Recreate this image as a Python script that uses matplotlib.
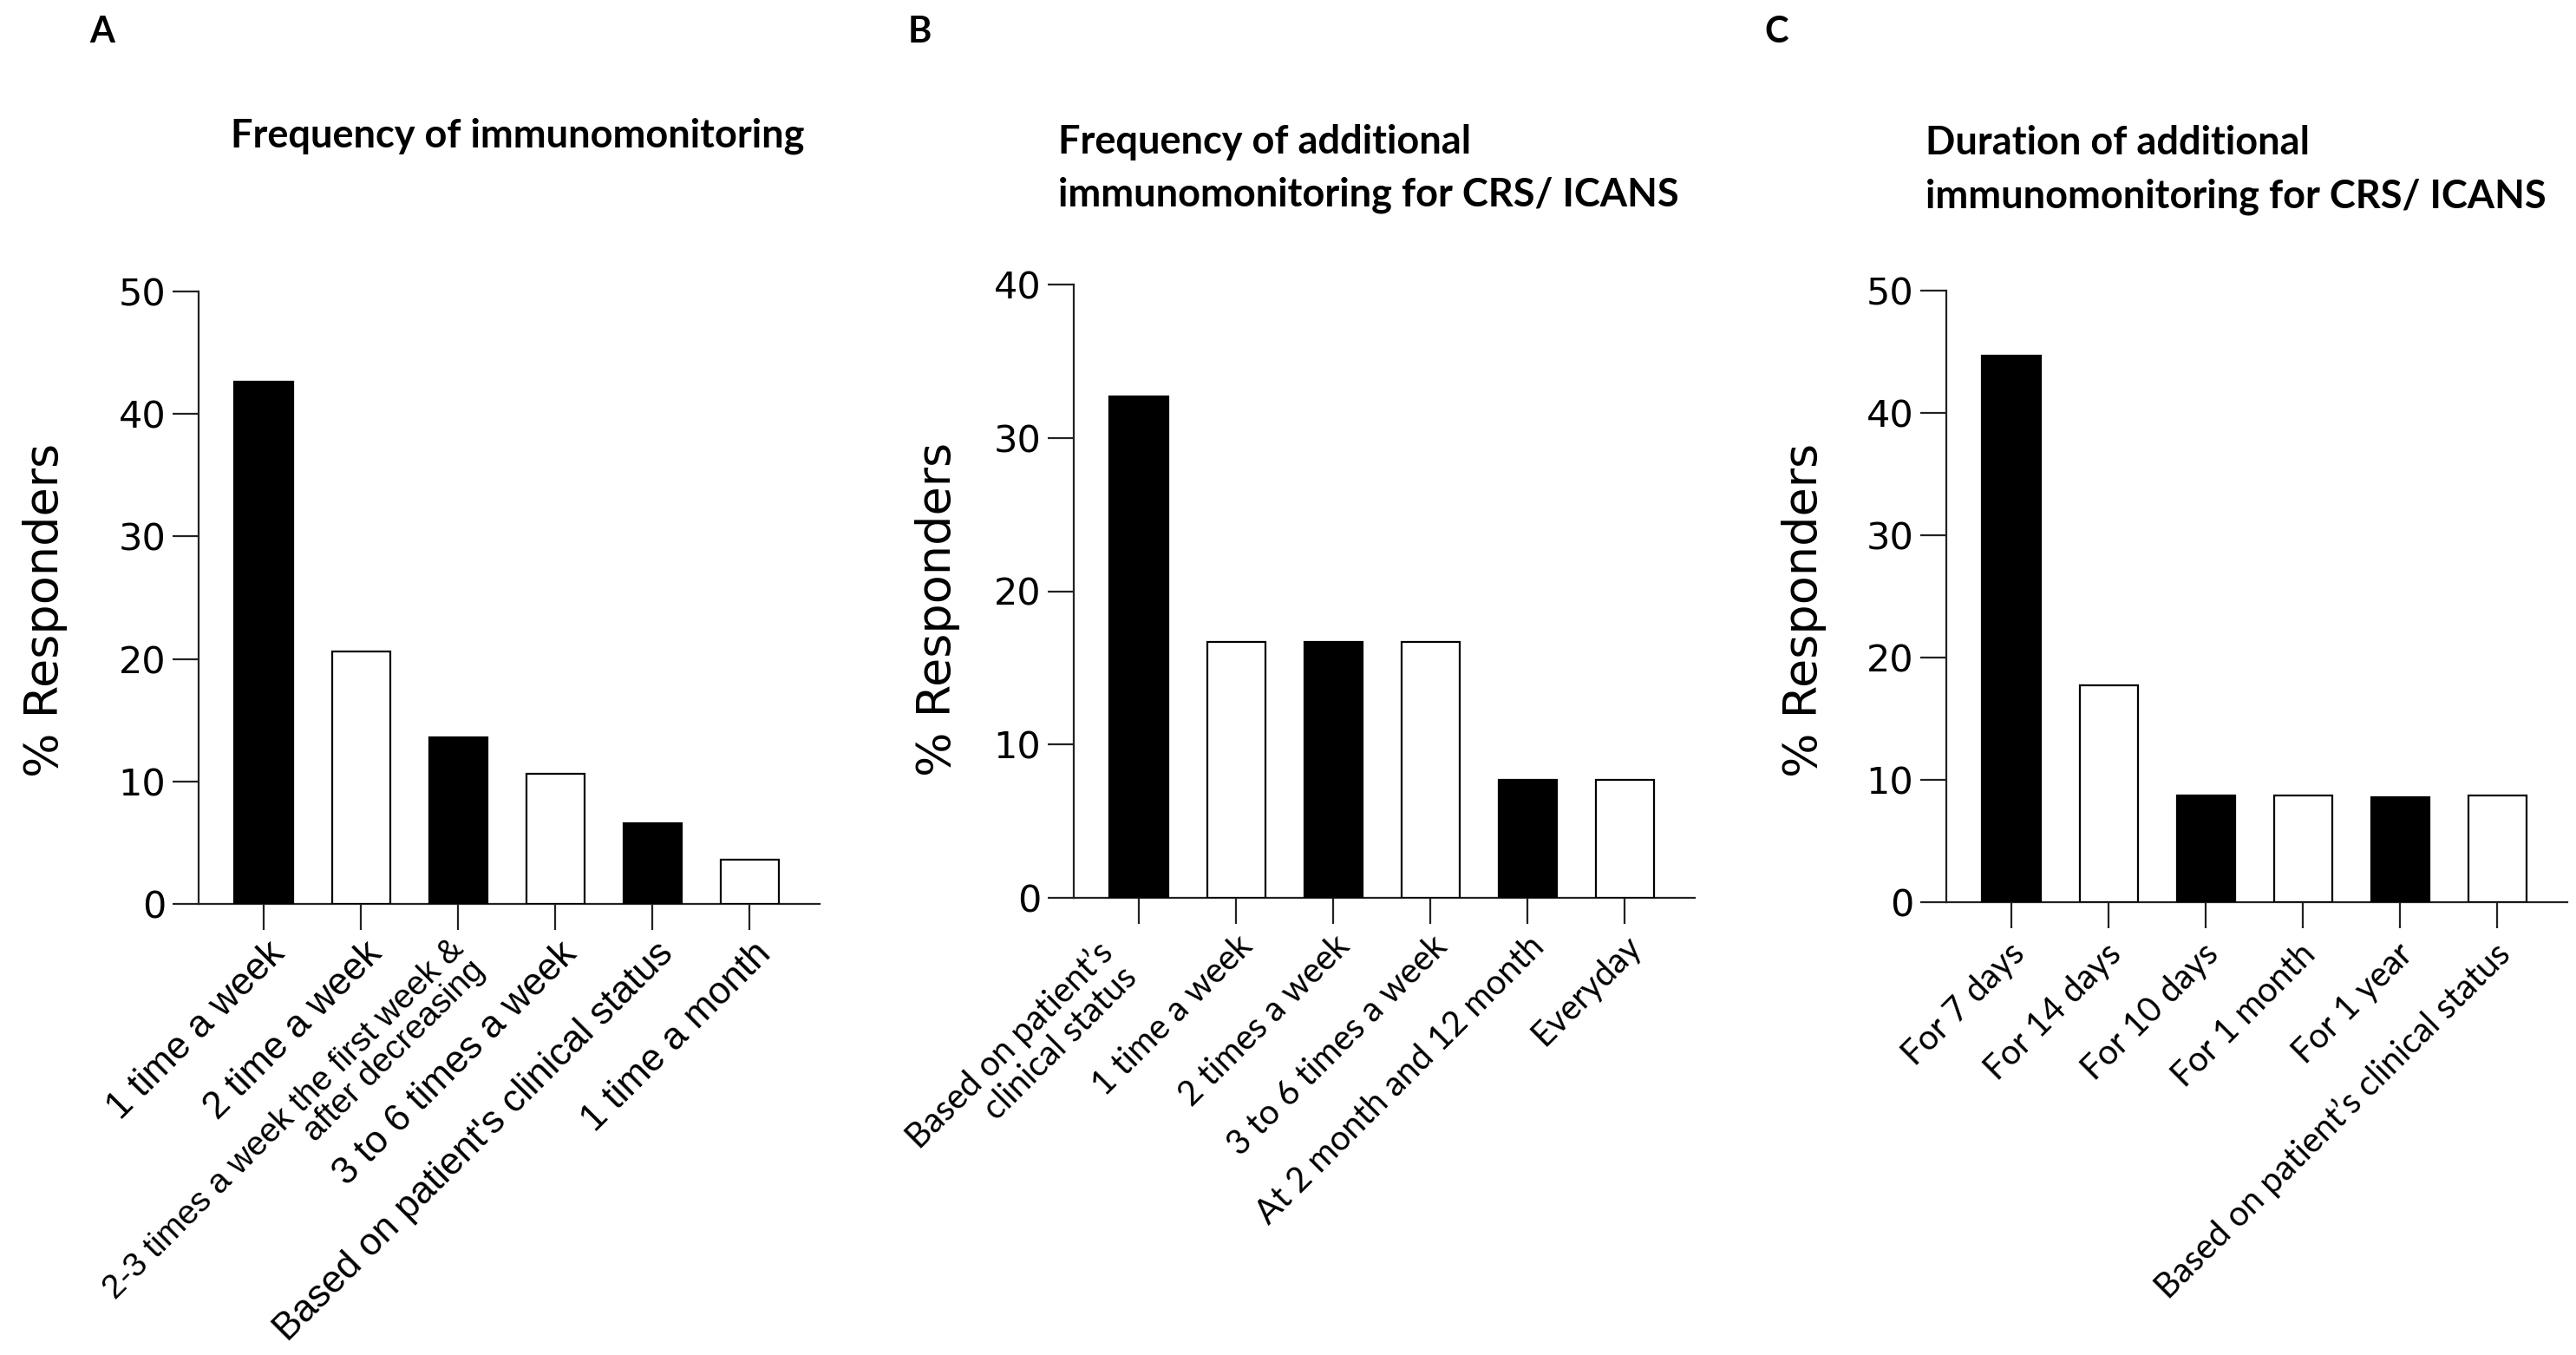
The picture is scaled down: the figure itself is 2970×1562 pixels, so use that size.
import matplotlib
matplotlib.use("Agg")
import matplotlib.pyplot as plt
from matplotlib.transforms import ScaledTranslation

plt.rcParams['font.family'] = ['DejaVu Sans']

W, H = 2970, 1562
DPI = 100

# panel A
labels_a = ["1 time a week", "2 time a week",
            "2-3 times a week the first week &\nafter decreasing",
            "3 to 6 times a week", "Based on patient's clinical status",
            "1 time a month"]
values_a = [42.6, 20.6, 13.6, 10.6, 6.6, 3.6]

# panel B
labels_b = ["Based on patient\u2019s\nclinical status", "1 time a week",
            "2 times a week", "3 to 6 times a week",
            "At 2 month and 12 month", "Everyday"]
values_b = [32.7, 16.7, 16.7, 16.7, 7.7, 7.7]

# panel C
labels_c = ["For 7 days", "For 14 days", "For 10 days", "For 1 month",
            "For 1 year", "Based on patient\u2019s clinical status"]
values_c = [44.7, 17.7, 8.7, 8.7, 8.6, 8.7]

titles_a = ["Frequency of immunomonitoring"]
titles_b = ["Frequency of additional", "immunomonitoring for CRS/ ICANS"]
titles_c = ["Duration of additional", "immunomonitoring for CRS/ ICANS"]


def px(x, y):
    # pixel position -> figure fraction
    return x / W, 1 - y / H


def draw_panel(ax, labels, values, ymax, font, size, end, multi):
    xs = list(range(len(values)))
    colors = ['black' if i % 2 == 0 else 'white' for i in xs]
    ax.bar(xs, values, width=0.6, color=colors, edgecolor='black',
           linewidth=1.6, zorder=3)
    ax.set_xlim(-0.67, 5.72)
    ax.set_ylim(0, ymax)
    ax.set_yticks(range(0, ymax + 1, 10))
    ax.spines[['top', 'right']].set_visible(False)
    for s in ['left', 'bottom']:
        ax.spines[s].set_linewidth(1.6)
        ax.spines[s].set_color('#222222')
    ax.tick_params(axis='y', length=21.6, width=1.6, pad=5.5, labelsize=31,
                   color='#222222')
    ax.tick_params(axis='x', length=21.6, width=1.6, color='#222222')
    ax.set_xticks(xs)
    ax.set_xticklabels([])
    # rotated category labels, each line anchored at its baseline end
    # (pixel offset from the tick foot on the axis line)
    for i, lab in enumerate(labels):
        ex, ey, fs, gap = multi.get(i, (end[0], end[1], size, 0))
        for j, line in enumerate(lab.split('\n')):
            dx = ex + j * gap * 0.7071
            dy = ey + j * gap * 0.7071
            off = ScaledTranslation(dx / DPI, -dy / DPI,
                                    ax.figure.dpi_scale_trans)
            ax.text(xs[i], 0, line,
                    transform=ax.get_xaxis_transform() + off,
                    rotation=45, rotation_mode='anchor', ha='right',
                    va='baseline', fontsize=fs, family=font)
    ax.set_ylabel('% Responders', fontsize=39)


fig = plt.figure(figsize=(W / DPI, H / DPI), dpi=DPI)

ax_a = fig.add_axes([229 / W, 1 - 1042 / H, 716 / W, 706 / H])
ax_b = fig.add_axes([1238 / W, 1 - 1035 / H, 716 / W, 707 / H])
ax_c = fig.add_axes([2244 / W, 1 - 1040 / H, 716 / W, 705 / H])

draw_panel(ax_a, labels_a, values_a, 50, 'Liberation Sans', 31.5,
           (26, 59), {2: (8, 54, 28, 34)})
draw_panel(ax_b, labels_b, values_b, 40, 'Lato', 28.5,
           (21, 58), {0: (-28, 66, 28.5, 40)})
draw_panel(ax_c, labels_c, values_c, 50, 'Lato', 28.5,
           (17, 62), {})

ax_a.yaxis.set_label_coords(-0.211, 0.48)
ax_b.yaxis.set_label_coords(-0.183, 0.47)
ax_c.yaxis.set_label_coords(-0.193, 0.477)

# titles
for lines, x0, y0 in [(titles_a, 266, 169), (titles_b, 1220, 177),
                      (titles_c, 2220, 178)]:
    for k, line in enumerate(lines):
        fx, fy = px(x0, y0 + k * 61)
        fig.text(fx, fy, line, fontsize=32.5, fontweight='bold', family='Lato',
                 ha='left', va='baseline')

# panel letters
for letter, x0 in [('A', 103), ('B', 1047), ('C', 2034)]:
    fx, fy = px(x0, 49)
    fig.text(fx, fy, letter, fontsize=30, fontweight='bold', family='Lato',
             ha='left', va='baseline')

fig.savefig('out.png', dpi=DPI, facecolor='white')
